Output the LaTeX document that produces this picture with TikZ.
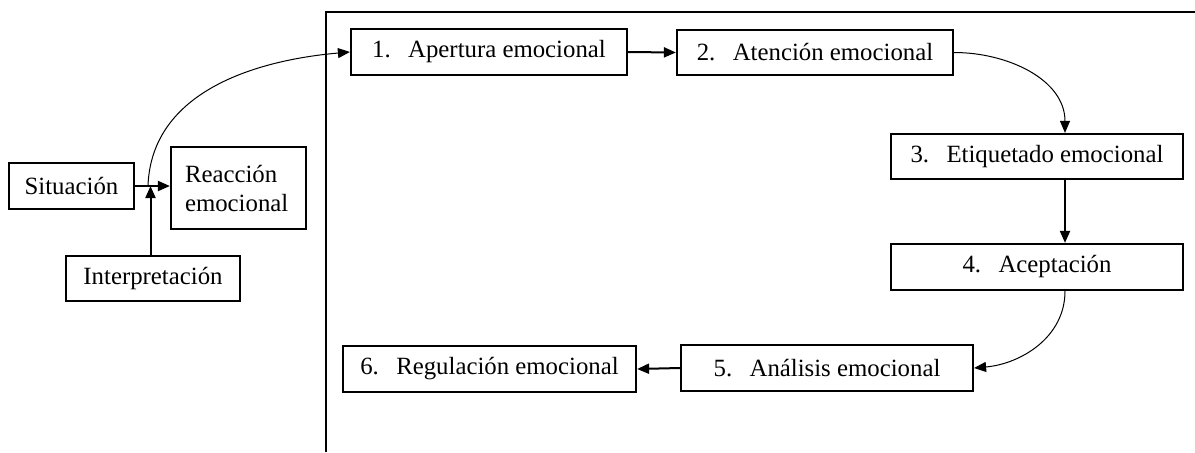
\documentclass[tikz,border=0pt]{standalone}
\usepackage{fontspec}
\setmainfont{Liberation Serif}
\usetikzlibrary{arrows.meta,calc}
\begin{document}
\begin{tikzpicture}[x=0.5pt,y=-0.5pt,
 box/.style={draw,line width=1.1pt,inner sep=0pt,font=\fontsize{12.4}{14.5}\selectfont},
 mainarrow/.style={line width=1pt,-{Triangle[length=6pt,width=5pt]}},
 thinarrow/.style={line width=0.5pt,-{Triangle[length=6pt,width=5pt]}},
 frameline/.style={line width=1pt}]
\useasboundingbox (0,0) rectangle (1195,452);
% open frame
\coordinate (fbl) at (326,452);
\coordinate (ftl) at (326,12);
\coordinate (ftr) at (1195,12);
\draw[frameline] (fbl) -- (ftl) -- (ftr);
% left group
\node[box,minimum width=62.5pt,minimum height=23pt] (sit) at (71.5,186) {Situación};
\node[box,minimum width=67.5pt,minimum height=41pt,inner xsep=7pt,text width=53.5pt,align=left] (reac) at (238.5,188) {Reacción\\emocional};
\node[box,minimum width=87pt,minimum height=22.5pt] (interp) at (153,278.5) {Interpretación};
% steps
\node[box,minimum width=138pt,minimum height=23pt] (b1) at (489,52) {\makebox[18pt][l]{1.}Apertura emocional};
\node[box,minimum width=138pt,minimum height=22.5pt] (b2) at (815,52.5) {\makebox[18pt][l]{2.}Atención emocional};
\node[box,minimum width=146pt,minimum height=22.5pt] (b3) at (1037,156.5) {\makebox[18pt][l]{3.}Etiquetado emocional};
\node[box,minimum width=146pt,minimum height=23pt] (b4) at (1037,267) {\makebox[18pt][l]{4.}Aceptación};
\node[box,minimum width=146pt,minimum height=23pt] (b5) at (827,368) {\makebox[18pt][l]{5.}Análisis emocional};
\node[box,minimum width=146.5pt,minimum height=23pt] (b6) at (489.5,369) {\makebox[18pt][l]{6.}Regulación emocional};
% helper columns
\coordinate (jx) at (148,0);
\coordinate (ix) at (150.5,0);
\coordinate (ax) at (1065,0);
% connectors
\draw[mainarrow] (sit.east) -- (sit.east -| reac.west);
\draw[mainarrow] (interp.north -| ix) -- (sit.east -| ix);
\draw[thinarrow] (sit.east -| jx) to[out=88,in=185] (b1.west);
\draw[mainarrow] (b1.east) -- (b2.west);
\draw[thinarrow] (b2.east) to[out=0,in=90] (b3.north -| ax);
\draw[mainarrow] (b3.south -| ax) -- (b4.north -| ax);
\draw[thinarrow] (b4.south -| ax) to[out=-90,in=5] (b5.east);
\draw[mainarrow] (b5.west) -- (b6.east);
\end{tikzpicture}
\end{document}
